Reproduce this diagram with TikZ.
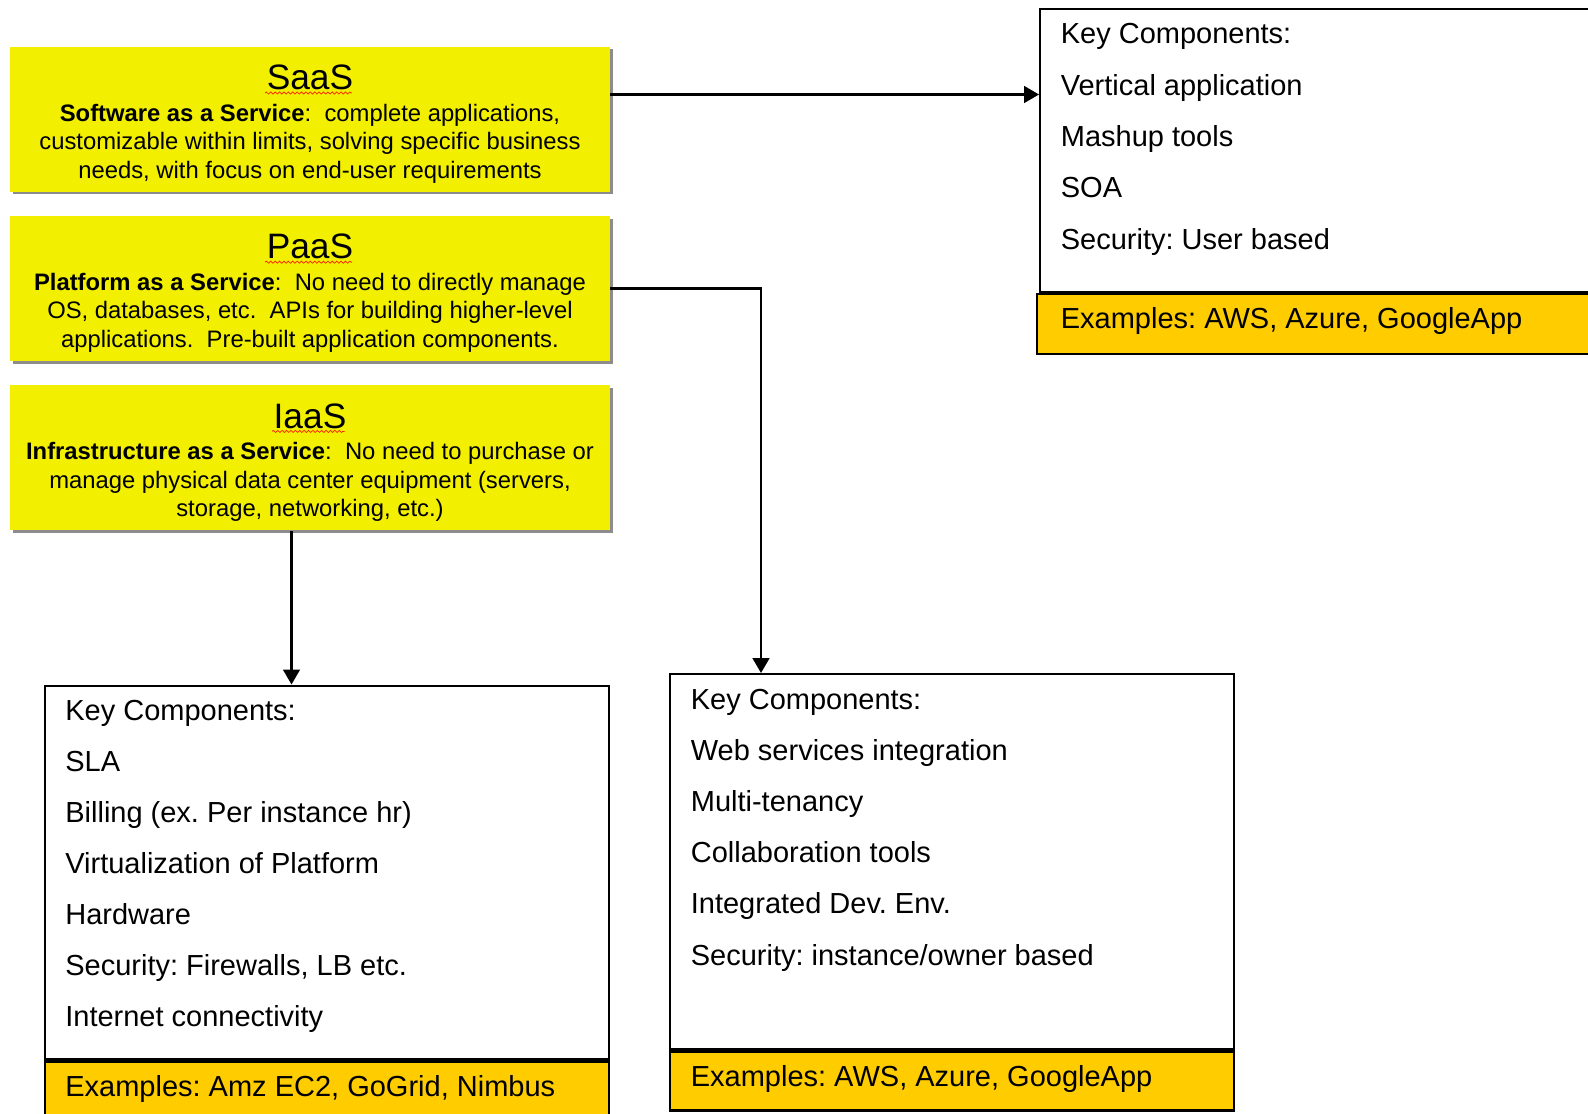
\documentclass[tikz,border=0pt]{standalone}
\usepackage{fontspec}
\setmainfont{Liberation Sans}
\usepackage{tikz}
\usetikzlibrary{arrows.meta, positioning, shadows, decorations.pathmorphing}
\definecolor{svcyellow}{RGB}{242,240,0}
\definecolor{exorange}{RGB}{255,204,0}
\frenchspacing

\begin{document}
\begin{tikzpicture}[
    service/.style={fill=svcyellow, minimum width=12cm, minimum height=2.9cm, inner sep=0pt, align=center,
        font=\fontsize{13.55}{16.1}\selectfont,
        drop shadow={shadow xshift=0.05cm, shadow yshift=-0.05cm, fill=black!45, opacity=1}},
    keyframe/.style={draw, line width=1.4pt, fill=white, anchor=north west, inner sep=0pt},
    exband/.style={draw, line width=1.4pt, fill=exorange, anchor=north west, inner sep=0pt},
    item/.style={anchor=base west, inner sep=0pt, font=\fontsize{16.5}{20}\selectfont},
    arr/.style={-{Triangle[length=8.5pt, width=9.5pt]}, line width=1.4pt},
    squiggle/.style={draw=red!75!orange, line width=0.4pt, decorate,
        decoration={snake, segment length=2.5pt, amplitude=0.6pt}}
]
    \useasboundingbox (0,0) rectangle (31.76,-22.26);
    \clip (0,0) rectangle (31.76,-22.26);

    % service models
    \node[service] (saas) at (6.2,-2.39) {\rule{0pt}{19.2pt}{\fontsize{20.1}{24}\selectfont SaaS}\\[1.9pt]
        \textbf{Software as a Service}:\ \ complete applications,\\
        customizable within limits, solving specific business\\
        needs, with focus on end-user requirements};
    \node[service] (paas) [below=0.47cm of saas] {\rule{0pt}{19.2pt}{\fontsize{20.1}{24}\selectfont PaaS}\\[1.9pt]
        \textbf{Platform as a Service}:\ \ No need to directly manage\\
        OS, databases, etc.\ \ APIs for building higher-level\\
        applications.\ \ Pre-built application components.};
    \node[service] (iaas) [below=0.47cm of paas] {\rule{0pt}{19.2pt}{\fontsize{20.1}{24}\selectfont IaaS}\\[1.9pt]
        \textbf{Infrastructure as a Service}:\ \ No need to purchase or\\
        manage physical data center equipment (servers,\\
        storage, networking, etc.)};

    \draw[squiggle] ([shift={(-0.9,0.53)}]saas.center) -- ++(1.74,0);
    \draw[squiggle] ([shift={(-0.9,0.53)}]paas.center) -- ++(1.74,0);
    \draw[squiggle] ([shift={(-0.76,0.53)}]iaas.center) -- ++(1.45,0);

    % key components boxes
    \node[keyframe, minimum width=12cm, minimum height=5.65cm] (kcSaaS) at (20.78,-0.16) {};
    \node[exband, minimum width=12cm, minimum height=1.2cm] (exSaaS) at ([xshift=-0.06cm]kcSaaS.south west) {};
    \node[keyframe, minimum width=11.28cm, minimum height=7.5cm] (kcPaaS) at (13.38,-13.46) {};
    \node[exband, minimum width=11.28cm, minimum height=1.18cm] (exPaaS) at (kcPaaS.south west) {};
    \node[keyframe, minimum width=11.28cm, minimum height=7.47cm] (kcIaaS) at (0.87,-13.69) {};
    \node[exband, minimum width=11.28cm, minimum height=1.5cm] (exIaaS) at (kcIaaS.south west) {};

    \foreach \txt [count=\i from 0] in {Key Components:, Vertical application, Mashup tools, SOA,
        Security: User based}
        \node[item] (saasitem\i) at ([shift={(0.43,{-0.72-1.026*\i})}]kcSaaS.north west) {\txt};
    \foreach \txt [count=\i from 0] in {Key Components:, Web services integration, Multi-tenancy,
        Collaboration tools, Integrated Dev. Env., Security: instance/owner based}
        \node[item] (paasitem\i) at ([shift={(0.43,{-0.72-1.024*\i})}]kcPaaS.north west) {\txt};
    \foreach \txt [count=\i from 0] in {Key Components:, SLA, Billing (ex. Per instance hr),
        Virtualization of Platform, Hardware, {Security: Firewalls, LB etc.}, Internet connectivity}
        \node[item] (iaasitem\i) at ([shift={(0.43,{-0.72-1.02*\i})}]kcIaaS.north west) {\txt};

    \node[item] (saasex) at ([shift={(0.43,-0.72)}]kcSaaS.south west) {Examples: AWS, Azure, GoogleApp};
    \node[item] (paasex) at ([shift={(0.43,-0.72)}]kcPaaS.south west) {Examples: AWS, Azure, GoogleApp};
    \node[item] (iaasex) at ([shift={(0.43,-0.72)}]kcIaaS.south west) {Examples: Amz EC2, GoGrid, Nimbus};

    % connectors
    \draw[arr] ([yshift=0.5cm]saas.east) -- ([yshift=0.5cm]saas.east -| kcSaaS.west);
    \draw[arr] (paas.east) -| ([xshift=1.84cm]kcPaaS.north west);
    \draw[arr] ([xshift=-0.37cm]iaas.south) -- ([xshift=-0.37cm]iaas.south |- kcIaaS.north);
\end{tikzpicture}
\end{document}
